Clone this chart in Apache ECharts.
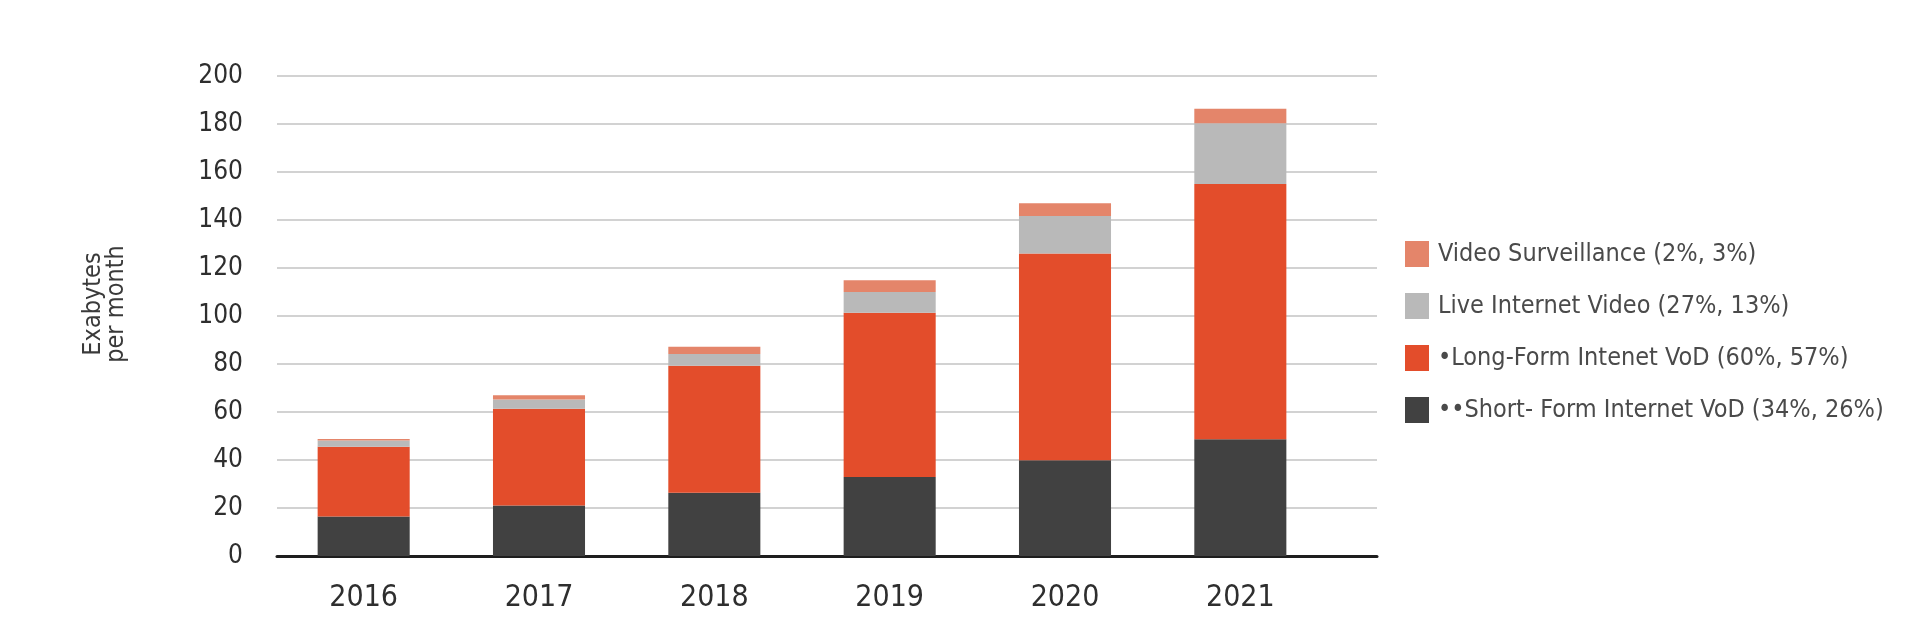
<!DOCTYPE html>
<html>
<head>
<meta charset="utf-8">
<script src="https://cdn.jsdelivr.net/npm/echarts@6/dist/echarts.min.js"></script>
<style>
html,body{margin:0;padding:0;background:#fff;}
#chart{width:1920px;height:636px;}
</style>
</head>
<body>
<div id="chart"></div>
<script>
const categories = ['2016', '2017', '2018', '2019', '2020', '2021'];
const shortForm = [16.5, 21, 26.4, 32.9, 39.9, 48.6];
const longForm = [29, 40.4, 52.9, 68.5, 86.1, 106.4];
const liveVideo = [2.6, 3.8, 4.9, 8.6, 15.7, 25.3];
const surveillance = [0.6, 1.8, 3.0, 4.9, 5.3, 6.1];
const seriesNames = [
  '••Short- Form Internet VoD (34%, 26%)',
  '•Long-Form Intenet VoD (60%, 57%)',
  'Live Internet Video (27%, 13%)',
  'Video Surveillance (2%, 3%)'
];
const yTicks = { min: 0, max: 200, interval: 20 };
const yName = 'Exabytes\nper month';

const FONT = '"Liberation Sans Narrow", "DejaVu Sans Condensed", sans-serif';
const colors = ['#414141', '#e34d2b', '#b9b9b9', '#e4856a'];

const chart = echarts.init(document.getElementById('chart'), null, { renderer: 'canvas' });
const seriesData = [shortForm, longForm, liveVideo, surveillance];

chart.setOption({
  animation: false,
  backgroundColor: '#ffffff',
  textStyle: { fontFamily: FONT },
  grid: [
    { left: 277, right: 543, top: 76, bottom: 80 },
    { left: 276, right: 592, top: 76, bottom: 80 }
  ],
  graphic: [{
    type: 'text',
    x: 105, y: 304,
    rotation: Math.PI / 2,
    style: {
      text: yName,
      fill: '#3a3a3a',
      font: '25px ' + FONT,
      lineHeight: 23,
      align: 'center',
      verticalAlign: 'middle'
    }
  }],
  xAxis: [
    {
      type: 'value', gridIndex: 0, min: 0, max: 1,
      axisLine: { show: true, lineStyle: { color: '#1e1e1e', width: 3 } },
      axisTick: { show: false }, axisLabel: { show: false }, splitLine: { show: false }
    },
    {
      type: 'category', gridIndex: 1, data: categories,
      axisLine: { show: false }, axisTick: { show: false },
      axisLabel: { color: '#2e2e2e', fontSize: 30, margin: 27, fontFamily: FONT }
    }
  ],
  yAxis: [
    {
      type: 'value', gridIndex: 0, min: yTicks.min, max: yTicks.max, interval: yTicks.interval,
      axisLine: { show: false }, axisTick: { show: false },
      axisLabel: { color: '#2e2e2e', fontSize: 26, margin: 34, fontFamily: FONT },
      splitLine: { show: true, lineStyle: { color: '#d2d2d2', width: 2 } }
    },
    {
      type: 'value', gridIndex: 1, min: yTicks.min, max: yTicks.max, interval: yTicks.interval,
      axisLine: { show: false }, axisTick: { show: false }, axisLabel: { show: false },
      splitLine: { show: false }
    }
  ],
  legend: {
    orient: 'vertical',
    left: 1400, top: 236,
    itemWidth: 24, itemHeight: 26, itemGap: 26,
    icon: 'rect',
    data: [seriesNames[3], seriesNames[2], seriesNames[1], seriesNames[0]],
    textStyle: { color: '#4a4a4a', fontSize: 25, fontFamily: FONT, padding: [0, 0, 0, 4] }
  },
  series: seriesData.map((d, i) => ({
    name: seriesNames[i],
    type: 'bar',
    stack: 'total',
    xAxisIndex: 1, yAxisIndex: 1,
    barWidth: '52.5%',
    itemStyle: { color: colors[i] },
    data: d
  }))
});
</script>
</body>
</html>
